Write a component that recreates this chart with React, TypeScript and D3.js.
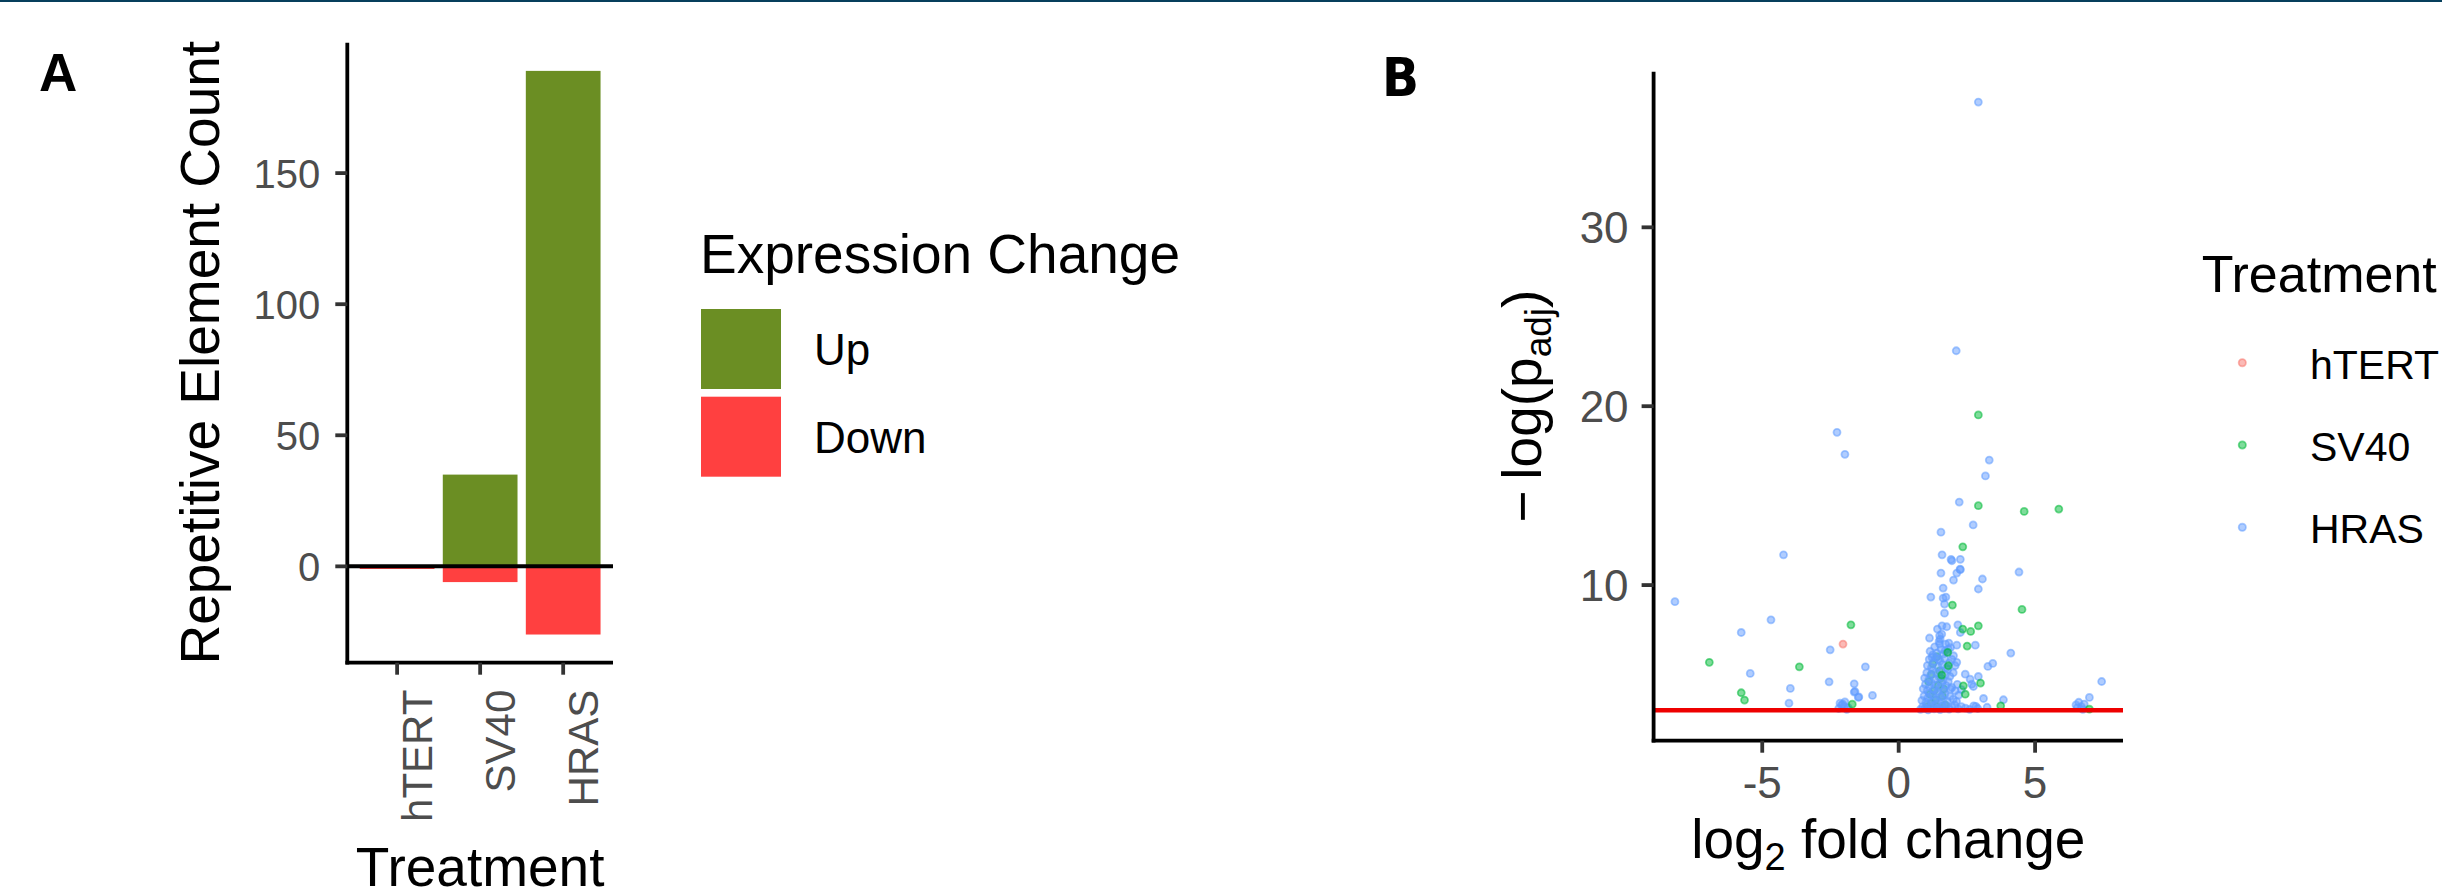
import React from 'react';
import * as d3 from 'd3';

const W = 2442;
const H = 892;

// ---------- Panel A data ----------
const treatments = ['hTERT', 'SV40', 'HRAS'];
const upCounts = [0, 35, 189];
const downCounts = [-1, -6, -26];
const yTicksA = [0, 50, 100, 150];
const changeLabels = ['Up', 'Down'];
const changeColors = ['#6B8E23', '#FF4040'];

// ---------- Panel B data: [log2 fold change, -log(p_adj)] ----------
const hTERTPoints: [number, number][] = [[-2.04, 6.7]];

const sv40ClusterPoints: [number, number][] = [
  [1.2, 3.4], [1.3, 4.1], [1.4, 3.2], [1.5, 5.2], [1.1, 4.6], [1.6, 3.8], [1.35, 3.6], [1.25, 5.6],
  [1.45, 4.4], [1.7, 3.3], [1.15, 3.9], [1.55, 4.8], [1.05, 3.2], [1.65, 4.2], [1.4, 6.0], [1.2, 5.0],
];

const sv40Points: [number, number][] = [
  [-1.75, 7.78], [-6.94, 5.68], [-3.64, 5.43], [-5.77, 3.98], [-5.65, 3.57], [-1.7, 3.34],
  [2.92, 19.51], [2.92, 14.44], [4.6, 14.12], [5.87, 14.25], [2.35, 12.14], [1.97, 8.88],
  [4.52, 8.64], [2.92, 7.72], [2.35, 7.54], [2.64, 7.41], [2.51, 6.59], [1.8, 6.24],
  [1.82, 5.49], [1.58, 4.97], [2.37, 4.37], [3.0, 4.52], [2.44, 3.9], [3.74, 3.25], [6.99, 3.06],
];

const hrasPoints: [number, number][] = [
  // down-regulated
  [-2.26, 18.54], [-1.97, 17.31], [-4.22, 11.69], [-8.2, 9.07], [-4.68, 8.06], [-5.77, 7.35],
  [-2.51, 6.38], [-1.22, 5.43], [-5.44, 5.06], [-2.55, 4.59], [-1.63, 4.48], [-3.97, 4.22],
  [-1.63, 4.02], [-1.46, 3.75], [-0.96, 3.83], [-4.02, 3.4], [-1.97, 3.47], [-2.09, 3.29],
  [-1.85, 3.15], [-2.2, 3.1], [-1.9, 3.05], [-2.0, 3.22], [-1.6, 4.05], [-2.05, 3.35],
  [-1.48, 3.72], [-2.15, 3.4],
  // up-regulated, spread
  [2.92, 37.0], [2.11, 23.1], [3.32, 16.99], [3.18, 16.1], [2.22, 14.64], [2.73, 13.36],
  [1.55, 12.96], [1.59, 11.69], [1.92, 11.44], [2.26, 11.44], [1.95, 11.36], [2.25, 10.89],
  [1.55, 10.67], [2.26, 10.86], [2.13, 10.67], [2.01, 10.28], [4.41, 10.73], [3.07, 10.34],
  [2.92, 9.78], [1.63, 9.83], [1.18, 9.33], [1.63, 9.27], [1.73, 9.33], [1.68, 8.94],
  [1.68, 8.43], [1.59, 7.72], [1.76, 7.67], [2.17, 7.78], [2.26, 7.35], [1.42, 7.54],
  [1.5, 7.17], [1.13, 7.04], [1.52, 6.98], [1.58, 7.26], [1.5, 6.7], [1.84, 6.76],
  [2.13, 6.64], [2.81, 6.64], [1.7, 6.33], [1.82, 6.42], [1.22, 5.96], [1.46, 5.86],
  [1.77, 6.24], [2.01, 6.05], [4.11, 6.2], [3.45, 5.62], [3.27, 5.45], [2.13, 5.68],
  [2.07, 5.49], [2.44, 5.02], [2.92, 4.89], [2.62, 4.74], [2.68, 4.46], [2.74, 4.33],
  [1.95, 4.28], [2.07, 4.09], [3.11, 3.66], [3.84, 3.59], [3.24, 3.17], [2.83, 3.22],
  [7.44, 4.61], [6.99, 3.72], [6.5, 3.3], [6.6, 3.45], [6.7, 3.2], [6.8, 3.35], [6.55, 3.15], [6.75, 3.05],
  // dense cluster near threshold
  [0.8, 3.05], [0.88, 3.2], [0.95, 3.1], [1.02, 3.3], [1.08, 3.02], [1.15, 3.15], [1.22, 3.25], [1.3, 3.08],
  [1.38, 3.35], [1.45, 3.12], [1.52, 3.04], [1.6, 3.22], [1.68, 3.1], [1.75, 3.28], [1.85, 3.06], [1.95, 3.18],
  [2.05, 3.3], [2.18, 3.08], [2.3, 3.2], [2.45, 3.12], [2.6, 3.05], [2.75, 3.25], [2.9, 3.1],
  [0.85, 3.55], [0.93, 3.8], [1.0, 3.45], [1.07, 3.7], [1.12, 3.95], [1.18, 3.5], [1.25, 3.85], [1.32, 3.6],
  [1.4, 3.9], [1.47, 3.48], [1.55, 3.75], [1.62, 3.58], [1.7, 3.92], [1.78, 3.52], [1.88, 3.78], [2.0, 3.62],
  [2.12, 3.5], [2.2, 3.85],
  [0.9, 4.2], [0.98, 4.45], [1.05, 4.1], [1.13, 4.35], [1.2, 4.55], [1.28, 4.15], [1.35, 4.4], [1.43, 4.05],
  [1.5, 4.3], [1.58, 4.52], [1.66, 4.12], [1.74, 4.38], [1.82, 4.6], [1.9, 4.2], [2.15, 4.45], [2.3, 4.15],
  [0.95, 4.8], [1.03, 5.1], [1.1, 4.7], [1.18, 5.0], [1.26, 5.25], [1.33, 4.75], [1.41, 5.05], [1.48, 4.85],
  [1.56, 5.2], [1.63, 4.68], [1.72, 5.0], [1.8, 5.28], [1.88, 4.9], [2.0, 5.1],
  [1.05, 5.5], [1.12, 5.85], [1.2, 5.4], [1.28, 5.7], [1.36, 5.95], [1.44, 5.45], [1.52, 5.75], [1.6, 5.55],
  [1.68, 5.9], [1.76, 5.38], [1.85, 5.65], [1.95, 5.85],
  [1.15, 6.3], [1.25, 6.1], [1.32, 6.55], [1.4, 6.2], [1.48, 6.85], [1.56, 6.4], [1.64, 6.15], [1.72, 6.7], [1.9, 6.5],
];

const treatmentColors = ['#F8766D', '#00BA38', '#619CFF'];
const threshold = 3.0; // -ln(0.05)
const xTicksB = [-5, 0, 5];
const yTicksB = [10, 20, 30];

// ---------- layout ----------
const A = { left: 347.3, right: 613, top: 42.7, bottom: 662.7 };
const B = { left: 1653.6, right: 2123, top: 71.7, bottom: 740.7 };
const FONT = 'Liberation Sans, Arial, Helvetica, sans-serif';
const AXIS_W = 3.8;
const TICK_LEN = 12;

function expand(lo: number, hi: number, m = 0.05): [number, number] {
  const r = hi - lo;
  return [lo - r * m, hi + r * m];
}

function Points({ pts, color, x, y }: { pts: [number, number][]; color: string; x: any; y: any }) {
  return (
    <g>
      {pts.map((p, i) => (
        <circle
          key={i}
          cx={x(p[0])}
          cy={y(p[1])}
          r={3.5}
          fill={color}
          fillOpacity={0.5}
          stroke={color}
          strokeOpacity={0.55}
          strokeWidth={1.8}
        />
      ))}
    </g>
  );
}

export default function App() {
  // Panel A scales
  const xA = d3
    .scaleBand<string>()
    .domain(treatments)
    .range([A.left, A.right])
    .paddingInner(0.1)
    .paddingOuter(0.15);
  const allA = [...upCounts, ...downCounts];
  const yA = d3
    .scaleLinear()
    .domain(expand(d3.min(allA) as number, d3.max(allA) as number))
    .range([A.bottom, A.top]);

  // Panel B scales
  const allPts = [...hTERTPoints, ...sv40Points, ...sv40ClusterPoints, ...hrasPoints];
  const xs = allPts.map((p) => p[0]);
  const ys = allPts.map((p) => p[1]).concat([threshold]);
  const xB = d3
    .scaleLinear()
    .domain(expand(d3.min(xs) as number, d3.max(xs) as number))
    .range([B.left, B.right]);
  const yB = d3
    .scaleLinear()
    .domain(expand(d3.min(ys) as number, d3.max(ys) as number))
    .range([B.bottom, B.top]);

  const aMidY = (A.top + A.bottom) / 2;
  const aMidX = (A.left + A.right) / 2;
  const bMidY = (B.top + B.bottom) / 2;
  const bMidX = (B.left + B.right) / 2;

  return (
    <svg
      width={W}
      height={H}
      viewBox={`0 0 ${W} ${H}`}
      style={{ position: 'absolute', left: 0, top: 0, background: '#fff' }}
      fontFamily={FONT}
    >
      <rect x={0} y={0} width={W} height={H} fill="#fff" />
      <rect x={0} y={0} width={W} height={2} fill="#063f5c" />

      {/* ---------------- Panel A ---------------- */}
      <text x={39} y={91} fontSize={53} fontWeight="bold" fill="#000">A</text>

      {treatments.map((t, i) => (
        <g key={t}>
          <rect
            x={xA(t)}
            width={xA.bandwidth()}
            y={yA(Math.max(upCounts[i], 0))}
            height={Math.abs(yA(0) - yA(upCounts[i]))}
            fill={changeColors[0]}
          />
          <rect
            x={xA(t)}
            width={xA.bandwidth()}
            y={yA(0)}
            height={Math.abs(yA(downCounts[i]) - yA(0))}
            fill={changeColors[1]}
          />
        </g>
      ))}
      <line x1={A.left} x2={A.right} y1={yA(0)} y2={yA(0)} stroke="#000" strokeWidth={4} />

      {/* axes A */}
      <line x1={A.left} x2={A.left} y1={A.top} y2={A.bottom + AXIS_W / 2} stroke="#000" strokeWidth={AXIS_W} />
      <line x1={A.left - AXIS_W / 2} x2={A.right} y1={A.bottom} y2={A.bottom} stroke="#000" strokeWidth={AXIS_W} />
      {yTicksA.map((t) => (
        <g key={t}>
          <line x1={A.left - TICK_LEN} x2={A.left} y1={yA(t)} y2={yA(t)} stroke="#333" strokeWidth={AXIS_W} />
          <text x={A.left - 27} y={yA(t)} dy="0.36em" textAnchor="end" fontSize={40} fill="#4D4D4D">
            {t}
          </text>
        </g>
      ))}
      {treatments.map((t) => {
        const cx = (xA(t) as number) + xA.bandwidth() / 2;
        return (
          <g key={t}>
            <line x1={cx} x2={cx} y1={A.bottom} y2={A.bottom + TICK_LEN} stroke="#333" strokeWidth={AXIS_W} />
            <text
              transform={`translate(${cx + 35},${A.bottom + 27}) rotate(-90)`}
              textAnchor="end"
              fontSize={42}
              fill="#4D4D4D"
            >
              {t}
            </text>
          </g>
        );
      })}
      <text x={aMidX} y={886} textAnchor="middle" fontSize={55} fill="#000">Treatment</text>
      <text transform={`translate(219,${aMidY}) rotate(-90)`} textAnchor="middle" fontSize={55} fill="#000">
        Repetitive Element Count
      </text>

      {/* legend A */}
      <text x={700} y={273} fontSize={55} fill="#000">Expression Change</text>
      {changeLabels.map((l, i) => (
        <g key={l}>
          <rect x={701} y={309 + i * 87.7} width={80} height={80} fill={changeColors[i]} />
          <text x={814} y={309 + i * 87.7 + 56} fontSize={44} fill="#000">{l}</text>
        </g>
      ))}

      {/* ---------------- Panel B ---------------- */}
      <text x={1382} y={96} fontSize={54} fontWeight="bold" fill="#000"
        fontFamily="'Liberation Sans Narrow', 'DejaVu Sans Condensed', Arial, sans-serif">B</text>

      <Points pts={sv40ClusterPoints} color={treatmentColors[1]} x={xB} y={yB} />
      <Points pts={hrasPoints} color={treatmentColors[2]} x={xB} y={yB} />
      <Points pts={sv40Points} color={treatmentColors[1]} x={xB} y={yB} />
      <Points pts={hTERTPoints} color={treatmentColors[0]} x={xB} y={yB} />

      <line x1={B.left} x2={B.right} y1={yB(threshold)} y2={yB(threshold)} stroke="#EE0000" strokeWidth={4.5} />

      {/* axes B */}
      <line x1={B.left} x2={B.left} y1={B.top} y2={B.bottom + AXIS_W / 2} stroke="#000" strokeWidth={AXIS_W} />
      <line x1={B.left - AXIS_W / 2} x2={B.right} y1={B.bottom} y2={B.bottom} stroke="#000" strokeWidth={AXIS_W} />
      {yTicksB.map((t) => (
        <g key={t}>
          <line x1={B.left - TICK_LEN} x2={B.left} y1={yB(t)} y2={yB(t)} stroke="#333" strokeWidth={AXIS_W} />
          <text x={B.left - 25} y={yB(t)} dy="0.36em" textAnchor="end" fontSize={44} fill="#4D4D4D">
            {t}
          </text>
        </g>
      ))}
      {xTicksB.map((t) => (
        <g key={t}>
          <line x1={xB(t)} x2={xB(t)} y1={B.bottom} y2={B.bottom + TICK_LEN} stroke="#333" strokeWidth={AXIS_W} />
          <text x={xB(t)} y={798} textAnchor="middle" fontSize={44} fill="#4D4D4D">
            {t < 0 ? `-${Math.abs(t)}` : t}
          </text>
        </g>
      ))}
      <text x={bMidX} y={858} textAnchor="middle" fontSize={55} fill="#000">
        log<tspan fontSize={38} dy={12}>2</tspan>
        <tspan dy={-12}> fold change</tspan>
      </text>
      <text transform={`translate(1541,${bMidY}) rotate(-90)`} textAnchor="middle" fontSize={55} fill="#000">
        {'\u2212\u2009log(p'}
        <tspan fontSize={37} dy={10}>adj</tspan>
        <tspan dy={-10}>)</tspan>
      </text>

      {/* legend B */}
      <text x={2201.7} y={291.7} fontSize={52} fill="#000">Treatment</text>
      {treatments.map((t, i) => (
        <g key={t}>
          <circle
            cx={2242.3}
            cy={362.7 + i * 82.3}
            r={3.6}
            fill={treatmentColors[i]}
            fillOpacity={0.5}
            stroke={treatmentColors[i]}
            strokeOpacity={0.55}
            strokeWidth={1.8}
          />
          <text x={2310} y={362.7 + i * 82.3 + 16} fontSize={41} fill="#000">{t}</text>
        </g>
      ))}
    </svg>
  );
}
